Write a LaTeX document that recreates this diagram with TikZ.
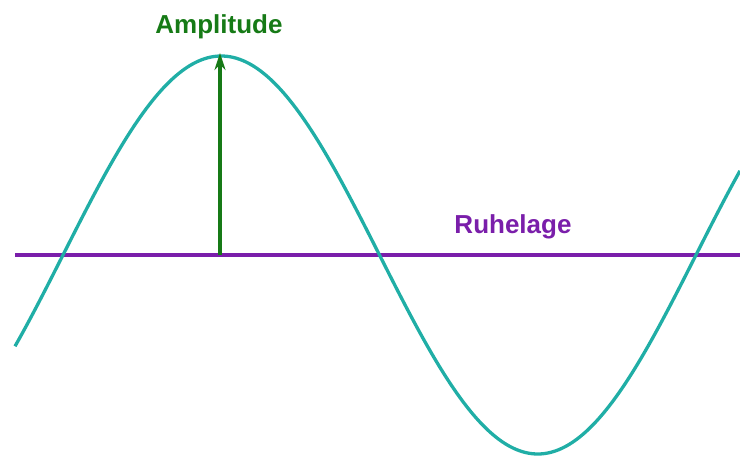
\documentclass[tikz,border=0pt]{standalone}
\usepackage{fontspec}
\setmainfont{Liberation Sans}
\usetikzlibrary{arrows.meta}
\definecolor{wavecol}{RGB}{32,174,166}
\definecolor{restcol}{RGB}{122,30,170}
\definecolor{ampcol}{RGB}{22,122,22}
\tikzset{
  wave/.style={wavecol, line width=3.3pt},
  restline/.style={restcol, line width=3.4pt},
  amparrow/.style={ampcol, line width=3.2pt, -{Stealth[length=17pt,width=11pt]}},
  lbl/.style={font=\fontsize{26}{30}\selectfont\bfseries, anchor=base, inner sep=0pt}
}
\begin{document}
\begin{tikzpicture}[x=1pt,y=-1pt]
\useasboundingbox (0,0) rectangle (740,458);
\coordinate (lstart) at (15,255);
\coordinate (lend) at (740,255);
\draw[restline] (lstart) -- (lend);
\draw[wave] plot[domain=15:740, samples=300, smooth] (\x, {255 - 199*sin(0.568720*(\x-63))});
\coordinate (base) at (220,255);
\coordinate (peak) at (220,53);
\draw[amparrow] (base) -- (peak);
\node[lbl, text=ampcol] (amp) at (219,33) {Amplitude};
\node[lbl, text=restcol] (rest) at (513,233) {Ruhelage};
\end{tikzpicture}
\end{document}
